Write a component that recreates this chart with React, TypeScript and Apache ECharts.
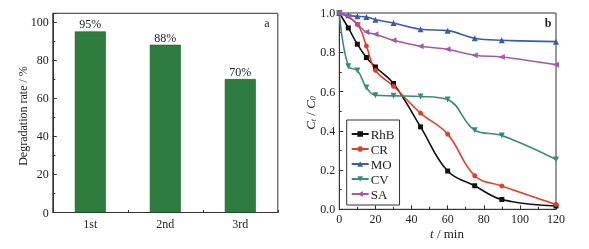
import React, { useEffect, useRef } from "react";
import * as echarts from "echarts";

const runs = ["1st", "2nd", "3rd"];
const degradation = [95, 88, 70];

const times = [0, 5, 10, 15, 20, 30, 45, 60, 75, 90, 120];
const rhb = [1.0, 0.924, 0.841, 0.773, 0.725, 0.641, 0.42, 0.195, 0.12, 0.05, 0.017];
const crT = [0, 10, 15, 20, 30, 45, 60, 75, 90, 120];
const cr = [1.0, 0.942, 0.832, 0.708, 0.627, 0.49, 0.383, 0.171, 0.119, 0.025];
const mo = [1.0, 0.988, 0.983, 0.98, 0.966, 0.949, 0.917, 0.91, 0.871, 0.861, 0.854];
const cv = [1.0, 0.729, 0.707, 0.62, 0.581, 0.578, 0.575, 0.559, 0.403, 0.376, 0.254];
const sa = [1.0, 0.983, 0.942, 0.903, 0.892, 0.861, 0.831, 0.815, 0.785, 0.776, 0.737];

const FONT = "Liberation Serif";
const AX = "#333";

export default function App() {
  const ref = useRef<HTMLDivElement>(null);
  useEffect(() => {
    const chart = echarts.init(ref.current!, undefined, { renderer: "svg" });
    const pair = (xs: number[], ys: number[]) => xs.map((x, i) => [x, ys[i]]);
    const labelStyle = { fontFamily: FONT, fontSize: 12, color: "#222" };
    const lineSeries = (name: string, xs: number[], ys: number[], color: string, symbol: string, rot = 0, size = 5) => ({
      name,
      type: "line",
      xAxisIndex: 2,
      yAxisIndex: 1,
      data: pair(xs, ys),
      smooth: 0.4,
      symbol,
      symbolSize: size,
      symbolRotate: rot,
      lineStyle: { color, width: 1.6 },
      itemStyle: { color },
    });
    chart.setOption({
      animation: false,
      textStyle: { fontFamily: FONT },
      grid: [
        { left: 52.8, top: 13.3, width: 225, height: 199.2, show: true, borderColor: AX, borderWidth: 1, backgroundColor: "transparent" },
        { left: 339.3, top: 13, width: 216.7, height: 196.3, show: true, borderColor: AX, borderWidth: 1, backgroundColor: "transparent" },
      ],
      xAxis: [
        {
          gridIndex: 0,
          type: "category",
          data: runs,
          boundaryGap: true,
          axisLine: { lineStyle: { color: AX } },
          axisTick: { show: true, inside: true, alignWithLabel: true, length: 4, lineStyle: { color: AX } },
          axisLabel: { ...labelStyle, margin: 5 },
          splitLine: { show: false },
        },
        {
          gridIndex: 0,
          type: "category",
          data: runs,
          boundaryGap: true,
          position: "bottom",
          axisLine: { show: false },
          axisTick: { show: true, inside: true, length: 2.5, lineStyle: { color: AX } },
          axisLabel: { show: false },
          splitLine: { show: false },
        },
        {
          gridIndex: 1,
          type: "value",
          min: 0,
          max: 120,
          interval: 20,
          axisLine: { lineStyle: { color: AX } },
          axisTick: { show: true, inside: true, length: 4, lineStyle: { color: AX } },
          minorTick: { show: true, splitNumber: 2, length: 2.5, lineStyle: { color: AX } },
          axisLabel: { ...labelStyle, margin: 4 },
          splitLine: { show: false },
        },
      ],
      yAxis: [
        {
          gridIndex: 0,
          type: "value",
          min: 0,
          max: 104.5,
          interval: 20,
          axisLine: { show: true, lineStyle: { color: AX } },
          axisTick: { show: true, inside: true, length: 4, lineStyle: { color: AX } },
          minorTick: { show: true, splitNumber: 2, length: 2.5, lineStyle: { color: AX } },
          axisLabel: {
            ...labelStyle,
            margin: 4,
            formatter: (v: number) => (v % 20 === 0 && v <= 100 ? String(v) : ""),
          },
          splitLine: { show: false },
        },
        {
          gridIndex: 1,
          type: "value",
          min: 0,
          max: 1,
          interval: 0.2,
          axisLine: { show: true, lineStyle: { color: AX } },
          axisTick: { show: true, inside: true, length: 4, lineStyle: { color: AX } },
          minorTick: { show: true, splitNumber: 2, length: 2.5, lineStyle: { color: AX } },
          axisLabel: { ...labelStyle, margin: 4, formatter: (v: number) => v.toFixed(1) },
          splitLine: { show: false },
        },
      ],
      legend: {
        show: true,
        orient: "vertical",
        left: 346.7,
        top: 120,
        padding: [7, 5, 4, 4],
        itemWidth: 17,
        itemHeight: 7,
        itemGap: 1,
        borderColor: AX,
        borderWidth: 1,
        textStyle: { fontFamily: FONT, fontSize: 13, color: "#222", padding: [0, 0, 0, -3], lineHeight: 14 },
        data: ["RhB", "CR", "MO", "CV", "SA"],
      },
      series: [
        {
          type: "bar",
          xAxisIndex: 0,
          yAxisIndex: 0,
          data: degradation,
          barWidth: 31,
          itemStyle: { color: "#2f7d3e", borderColor: "#1f5a2c", borderWidth: 0.6 },
          label: {
            show: true,
            position: "top",
            distance: 1,
            formatter: "{c}%",
            fontFamily: FONT,
            fontSize: 12,
            color: "#222",
          },
        },
        lineSeries("RhB", times, rhb, "#111111", "rect", 0, 5),
        lineSeries("CR", crT, cr, "#e0402a", "circle", 0, 5),
        lineSeries("MO", times, mo, "#3b5ba8", "triangle", 0, 6),
        lineSeries("CV", times, cv, "#3a8a78", "triangle", 180, 6),
        lineSeries("SA", times, sa, "#a05aa8", "triangle", 90, 6),
      ],
      graphic: [
        {
          type: "text",
          x: 23,
          y: 116,
          rotation: Math.PI / 2,
          style: {
            text: "Degradation rate / %",
            font: `12px "${FONT}"`,
            fill: "#222",
            align: "center",
            verticalAlign: "middle",
          },
        },
        {
          type: "text",
          x: 267,
          y: 23,
          style: { text: "a", font: `12px "${FONT}"`, fill: "#222", align: "center", verticalAlign: "middle" },
        },
        {
          type: "text",
          x: 548,
          y: 23,
          style: { text: "b", font: `bold 12px "${FONT}"`, fill: "#222", align: "center", verticalAlign: "middle" },
        },
        {
          type: "text",
          x: 310,
          y: 113,
          rotation: Math.PI / 2,
          style: {
            text: "{i|C}{s|t}{n| / }{i|C}{s|0}",
            align: "center",
            verticalAlign: "middle",
            fill: "#222",
            rich: {
              i: { fontFamily: FONT, fontSize: 13, fontStyle: "italic", fill: "#222", lineHeight: 14 },
              n: { fontFamily: FONT, fontSize: 13, fill: "#222", lineHeight: 14 },
              s: { fontFamily: FONT, fontSize: 8, fill: "#222", fontStyle: "italic", verticalAlign: "bottom", lineHeight: 10, padding: [6, 0, 0, 0] },
            },
          },
        },
        {
          type: "text",
          x: 447,
          y: 233,
          style: {
            text: "{i|t}{n| / min}",
            align: "center",
            verticalAlign: "middle",
            rich: {
              i: { fontFamily: FONT, fontSize: 13, fontStyle: "italic", fill: "#222" },
              n: { fontFamily: FONT, fontSize: 13, fill: "#222" },
            },
          },
        },
      ],
    });
    return () => chart.dispose();
  }, []);
  return <div ref={ref} style={{ width: 589, height: 249, position: "fixed", left: 0, top: 0 }} />;
}
